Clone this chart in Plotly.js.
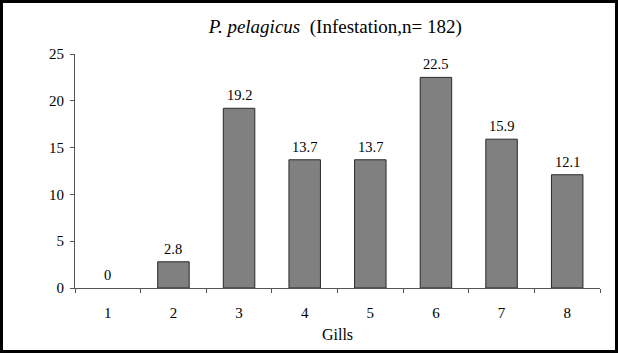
<!DOCTYPE html>
<html><head><meta charset="utf-8">
<script src="https://cdn.plot.ly/plotly-3.0.1.min.js"></script>
<style>
html,body{margin:0;padding:0;background:#fff;}
#wrap{width:612px;height:347px;border:3px solid #000;}
#chart{width:612px;height:347px;}
</style></head>
<body><div id="wrap"><div id="chart"></div></div>
<script>
const gills = ['1','2','3','4','5','6','7','8'];
const infestation = [0, 2.8, 19.2, 13.7, 13.7, 22.5, 15.9, 12.1];
const valueLabels = ['0','2.8','19.2','13.7','13.7','22.5','15.9','12.1'];
const yTicks = [0,5,10,15,20,25];

const serif = '"Liberation Serif", "Times New Roman", Times, serif';

const trace = {
  type: 'bar', x: gills, y: infestation,
  marker: {color: '#808080', line: {color: '#2a2a2a', width: infestation.map(v => v > 0 ? 1 : 0)}},
  width: 0.48, hoverinfo: 'none'
};

const annotations = gills.map((g, i) => ({
  x: i, y: infestation[i], xref: 'x', yref: 'y',
  text: valueLabels[i], showarrow: false,
  yanchor: 'bottom', yshift: 3,
  font: {family: serif, size: 14.5, color: '#000'}
}));

const layout = {
  width: 612, height: 347,
  margin: {l: 72, r: 15, t: 51, b: 62},
  paper_bgcolor: '#fff', plot_bgcolor: '#fff',
  showlegend: false,
  title: {
    text: '<i>P. pelagicus</i>&nbsp;&nbsp;(Infestation,n= 182)',
    font: {family: serif, size: 19, color: '#000'},
    xref: 'container', x: 0.543, xanchor: 'center',
    yref: 'container', y: 0.934, yanchor: 'middle'
  },
  xaxis: {
    type: 'category', range: [-0.5, 7.5], tickson: 'boundaries', ticks: 'outside', ticklen: 4,
    tickcolor: '#555', linecolor: '#555', linewidth: 1, showline: true,
    showgrid: false, zeroline: false,
    tickfont: {family: serif, size: 15, color: '#000'},
    ticklabelstandoff: 11,
    title: {text: 'Gills', font: {family: serif, size: 16, color: '#000'}, standoff: 8}
  },
  yaxis: {
    range: [0, 25], tickvals: yTicks, ticks: 'outside', ticklen: 4,
    tickcolor: '#555', linecolor: '#555', linewidth: 1, showline: true,
    showgrid: false, zeroline: false,
    tickfont: {family: serif, size: 15, color: '#000'},
    ticklabelstandoff: 3
  },
  annotations: annotations
};

Plotly.newPlot('chart', [trace], layout, {staticPlot: true, displayModeBar: false});
</script></body></html>
